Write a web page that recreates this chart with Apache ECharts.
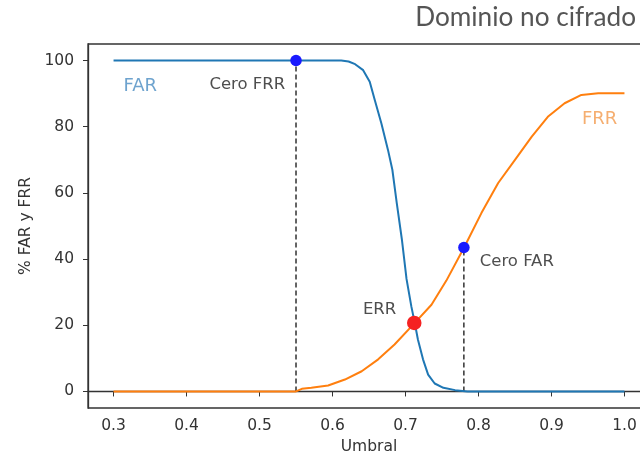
<!DOCTYPE html>
<html>
<head>
<meta charset="utf-8">
<script src="https://cdn.jsdelivr.net/npm/echarts@6/dist/echarts.min.js"></script>
<style>
html,body{margin:0;padding:0;background:#fff;}
#chart{width:640px;height:458px;}
</style>
</head>
<body>
<div id="chart"></div>
<script>
// ---- data ----
var farX = [0.30, 0.50, 0.612, 0.622, 0.631, 0.642, 0.651, 0.658, 0.667, 0.676, 0.682, 0.688, 0.695, 0.7014, 0.708, 0.7127, 0.717, 0.724, 0.731, 0.740, 0.752, 0.768, 0.785, 0.90, 1.00];
var farY = [100, 100, 100, 99.7, 98.9, 97.1, 93.6, 88, 81, 73, 67, 57, 46, 34, 25.7, 20.7, 15.7, 9.7, 5.1, 2.4, 1.1, 0.4, 0, 0, 0];
var frrX = [0.30, 0.50, 0.550, 0.558, 0.571, 0.594, 0.617, 0.640, 0.6626, 0.685, 0.7105, 0.7356, 0.756, 0.781, 0.804, 0.827, 0.850, 0.873, 0.895, 0.918, 0.941, 0.964, 1.00];
var frrY = [0, 0, 0, 0.8, 1.1, 1.8, 3.6, 6.1, 9.7, 14.2, 20.2, 26.2, 33.5, 43.8, 53.9, 63, 70, 77, 83, 87.1, 89.6, 90.1, 90.1];
var ceroFRR = [0.55, 100];
var ceroFAR = [0.78, 43.5];
var errPt = [0.712, 20.7];
var xTicks = [0.3, 0.4, 0.5, 0.6, 0.7, 0.8, 0.9, 1.0];
var yTicks = [0, 20, 40, 60, 80, 100];
var labelsLeft = [["FAR", 0.313, 92.3], ["FRR", 0.941, 82.1], ["Cero FAR", 0.801, 39.1], ["ERR", 0.641, 24.7]];
var labelsRight = [["Cero FRR", 0.536, 92.8]];

function pairs(xs, ys) { return xs.map(function (x, i) { return [x, ys[i]]; }); }

var chart = echarts.init(document.getElementById('chart'), null, {renderer: 'canvas'});
var font = 'DejaVu Sans';
var labelColors = {"FAR": "#4a8cc2", "FRR": "#f39a4c"};

var textData = labelsLeft.map(function (l) {
  return {value: [l[1], l[2]], name: l[0],
    label: {position: 'right', align: 'left', color: labelColors[l[0]] || '#222', fontSize: labelColors[l[0]] ? 18 : 16.5}};
}).concat(labelsRight.map(function (l) {
  return {value: [l[1], l[2]], name: l[0],
    label: {position: 'left', align: 'right', color: '#222', fontSize: 16.5}};
}));

chart.setOption({
  animation: false,
  backgroundColor: '#fff',
  title: {
    text: 'Dominio no cifrado', right: 4, top: 5, padding: 0,
    textStyle: {fontFamily: 'Lato', fontSize: 26.2, fontWeight: 'normal', color: '#555'}
  },
  grid: {left: 88, top: 44, width: 562, height: 364, outerBoundsMode: 'none', containLabel: false,
    show: true, borderColor: '#333', borderWidth: 1.3, backgroundColor: 'transparent'},
  xAxis: {
    type: 'value', min: 0.265, max: 1.035,
    name: 'Umbral', nameLocation: 'middle', nameGap: 31,
    nameTextStyle: {fontFamily: font, fontSize: 15.5, color: '#333'},
    axisLine: {show: true, lineStyle: {color: '#333', width: 1.3}},
    axisTick: {show: true, length: 5, lineStyle: {color: '#333'}, customValues: xTicks},
    axisLabel: {fontFamily: font, fontSize: 15.5, color: '#333', margin: 10, customValues: xTicks,
      hideOverlap: false, formatter: function (v) { return v.toFixed(1); }},
    splitLine: {show: false}
  },
  yAxis: {
    type: 'value', min: -5, max: 105,
    name: '% FAR y FRR', nameLocation: 'middle', nameGap: 52, nameRotate: 90,
    nameTextStyle: {fontFamily: font, fontSize: 15.5, color: '#333'},
    axisLine: {show: true, lineStyle: {color: '#333', width: 1.3}},
    axisTick: {show: true, length: 5, lineStyle: {color: '#333'}, customValues: yTicks},
    axisLabel: {fontFamily: font, fontSize: 15.5, color: '#333', margin: 14, customValues: yTicks},
    splitLine: {show: false}
  },
  series: [
    {type: 'line', data: pairs(farX, farY), showSymbol: false, smooth: false,
      lineStyle: {color: '#1f77b4', width: 2}, z: 3},
    {type: 'line', data: pairs(frrX, frrY), showSymbol: false, smooth: false,
      lineStyle: {color: '#ff7f0e', width: 2}, z: 3},
    {type: 'line', data: [[ceroFRR[0], 0], ceroFRR], showSymbol: false,
      lineStyle: {color: '#111', width: 1.3, type: [5, 3]}, z: 2},
    {type: 'line', data: [[ceroFAR[0], 0], ceroFAR], showSymbol: false,
      lineStyle: {color: '#111', width: 1.3, type: [5, 3]}, z: 2},
    {type: 'scatter', data: [ceroFRR, ceroFAR], symbolSize: 11.5, itemStyle: {color: '#1a1aff', opacity: 1}, z: 5},
    {type: 'scatter', data: [errPt], symbolSize: 14.5, itemStyle: {color: '#f52222', opacity: 1}, z: 5},
    {type: 'scatter', data: textData, symbolSize: 1, itemStyle: {color: 'rgba(0,0,0,0)'}, z: 6,
      label: {show: true, distance: 0, fontFamily: font, verticalAlign: 'middle',
        formatter: function (p) { return p.name; }}}
  ]
});
</script>
</body>
</html>
